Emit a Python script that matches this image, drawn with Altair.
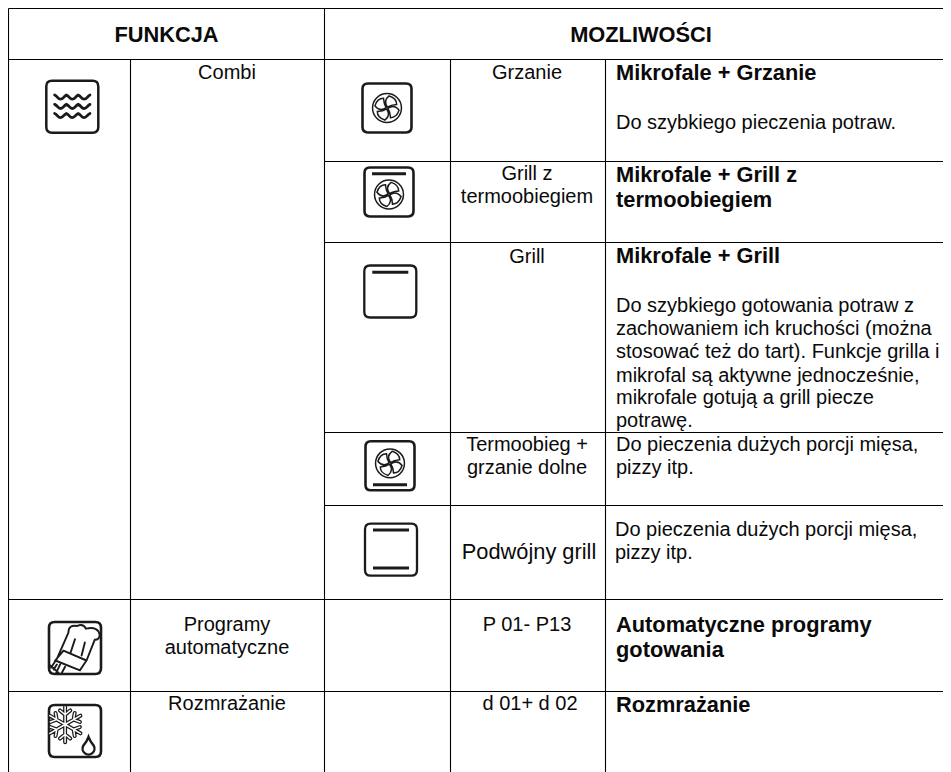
import math
import altair as alt
import pandas as pd

# ---------- table grid ----------
rule_x1 = [8.5, 8.5, 324.5, 324.5, 324.5, 324.5, 8.5, 8.5, 8.5, 130.5, 324.5, 450.5, 605.5]
rule_x2 = [943, 943, 943, 943, 943, 943, 943, 943, 8.5, 130.5, 324.5, 450.5, 605.5]
rule_y1 = [8.5, 59.5, 161.5, 242.5, 432.5, 505.5, 599.5, 691.5, 8.5, 59.5, 8.5, 59.5, 59.5]
rule_y2 = [8.5, 59.5, 161.5, 242.5, 432.5, 505.5, 599.5, 691.5, 772, 772, 772, 772, 772]

# ---------- text ----------
head_text = ["FUNKCJA", "MOZLIWOŚCI"]
head_x = [166.5, 641]
head_y = [41.7, 41.7]

center_text = ["Combi", "Grzanie", "Grill z", "termoobiegiem", "Grill", "Termoobieg +", "grzanie dolne",
               "Programy", "automatyczne", "Rozmrażanie", "P 01- P13", "d 01+ d 02"]
center_x = [227, 527, 527, 527, 527, 527, 527, 227, 227, 227, 527, 530]
center_y = [79, 79.3, 180, 203.3, 262.7, 451, 474, 630.7, 654, 710, 630.7, 710]

big_center_text = ["Podwójny grill"]
big_center_x = [529]
big_center_y = [558.5]

bold_text = ["Mikrofale + Grzanie", "Mikrofale + Grill z", "termoobiegiem", "Mikrofale + Grill",
             "Automatyczne programy", "gotowania", "Rozmrażanie"]
bold_x = [616] * 7
bold_y = [80, 181.7, 207.3, 263.3, 631.7, 657.3, 711.7]

body_text = ["Do szybkiego pieczenia potraw.", "Do szybkiego gotowania potraw z",
             "zachowaniem ich kruchości (można", "stosować też do tart). Funkcje grilla i",
             "mikrofal są aktywne jednocześnie,", "mikrofale gotują a grill piecze", "potrawę.",
             "Do pieczenia dużych porcji mięsa,", "pizzy itp.", "Do pieczenia dużych porcji mięsa,", "pizzy itp."]
body_x = [616] * 9 + [615, 615]
body_y = [129.3, 311.7, 335, 358.3, 381.7, 404, 426.7, 451, 474, 536, 559]

# ---------- icon outlines (unit square -1..1) ----------
def frame(r=0.22):
    k = 1 - r
    return (f"M{-k} -1L{k} -1Q1 -1 1 {-k}L1 {k}Q1 1 {k} 1L{-k} 1Q-1 1 -1 {k}L-1 {-k}Q-1 -1 {-k} -1Z")

def circle(cx, cy, r):
    return f"M{cx - r} {cy}A{r} {r} 0 1 0 {cx + r} {cy}A{r} {r} 0 1 0 {cx - r} {cy}Z"

def fan(cy=0.0):
    parts = [circle(0, cy, 0.59)]
    def pol(r, deg):
        a = math.radians(deg)
        return f"{round(r * math.cos(a), 3)} {round(r * math.sin(a) + cy, 3)}"
    for k in range(4):
        b = 10 + k * 90
        parts.append(
            f"M{pol(0.04, b + 20)}Q{pol(0.34, b - 40)} {pol(0.5, b)}Q{pol(0.56, b + 35)} {pol(0.42, b + 60)}"
            f"Q{pol(0.2, b + 40)} {pol(0.04, b + 20)}"
        )
    return "".join(parts)

def waves():
    out = ""
    for y in (-0.38, -0.02, 0.33):
        x0 = -0.68
        out += f"M{x0} {y - 0.07}"
        for i in range(3):
            x = round(x0 + i * 0.4533, 3)
            out += (f"C{round(x + 0.12, 3)} {round(y - 0.02, 3)} {round(x + 0.12, 3)} {round(y + 0.09, 3)} "
                    f"{round(x + 0.2267, 3)} {round(y + 0.09, 3)}"
                    f"C{round(x + 0.34, 3)} {round(y + 0.09, 3)} {round(x + 0.34, 3)} {round(y - 0.02, 3)} "
                    f"{round(x + 0.4533, 3)} {round(y - 0.07, 3)}")
    return out

def z(x, y):
    return f"{round((x - 225) / 79, 3)} {round((y - 775) / 79, 3)}"

def chef():
    return (f"M{z(170, 808)}L{z(205, 728)}Q{z(205, 703)} {z(232, 708)}Q{z(250, 700)} {z(258, 716)}"
            f"Q{z(295, 708)} {z(300, 735)}Q{z(300, 750)} {z(285, 750)}L{z(260, 813)}"
            f"M{z(190, 783)}L{z(260, 813)}L{z(240, 843)}L{z(165, 813)}L{z(190, 783)}"
            f"M{z(225, 748)}L{z(212, 788)}M{z(255, 758)}L{z(245, 798)}"
            f"M{z(150, 828)}L{z(175, 850)}M{z(165, 815)}L{z(152, 835)}"
            f"M{z(180, 825)}L{z(168, 850)}M{z(195, 832)}L{z(185, 850)}M{z(160, 840)}L{z(170, 825)}")

def snow():
    cx, cy, R = -0.38, -0.25, 0.68
    out = ""
    for deg in (90, 30, 150, 270, 210, 330):
        a = math.radians(deg)
        ex, ey = cx + R * math.cos(a), cy - R * math.sin(a)
        mx, my = cx + 0.55 * R * math.cos(a), cy - 0.55 * R * math.sin(a)
        out += f"M{round(cx, 3)} {round(cy, 3)}L{round(ex, 3)} {round(ey, 3)}"
        for d in (-50, 50):
            b = a + math.radians(d)
            out += (f"M{round(mx, 3)} {round(my, 3)}"
                    f"L{round(mx + 0.26 * math.cos(b), 3)} {round(my - 0.26 * math.sin(b), 3)}")
    return out

drop = "M0.52 0.23Q0.45 0.42 0.32 0.56A0.23 0.23 0 1 0 0.72 0.56Q0.59 0.42 0.52 0.23Z"

DARK = "#1c1a1b"
# one row per icon part: x, y, side, path, stroke width, colour
part_x = [72.3, 72.3, 387, 387, 389, 389, 390.3, 390, 390, 391, 75, 75, 75, 75, 75, 75]
part_y = [106.7, 106.7, 108, 108, 192, 192, 291.5, 465.8, 465.8, 549.7, 648, 648, 731, 731, 731, 731]
part_side = [52, 52, 49, 49, 49, 49, 52, 49, 49, 52, 52, 52, 52, 52, 52, 52]
part_path = [frame(), waves(), frame(), fan(0.0), frame(), fan(0.1), frame(), frame(), fan(-0.1), frame(),
             frame(), chef(), frame(), snow(), snow(), drop]
part_sw = [2.5, 2.8, 2.6, 1.5, 2.6, 1.5, 2.3, 2.6, 1.5, 2.3, 2.6, 1.9, 2.6, 4.0, 1.5, 2.4]
part_col = [DARK] * 14 + ["#ffffff", DARK]

bar_x = [389, 390.3, 390, 391, 391]
bar_y = [173.7, 272.3, 484.7, 530, 568]
bar_half = [17, 18, 17, 18, 18]

# ---------- scales ----------
xs = alt.Scale(domain=[8, 943], nice=False, zero=False)
ys = alt.Scale(domain=[772, 8], nice=False, zero=False)
X = lambda f: alt.X(f, type="quantitative", scale=xs, axis=None)
Y = lambda f: alt.Y(f, type="quantitative", scale=ys, axis=None)

grid = alt.Chart(pd.DataFrame({"x": rule_x1, "x2": rule_x2, "y": rule_y1, "y2": rule_y2})).mark_rule(
    color="#000000", strokeWidth=1.1
).encode(x=X("x"), x2="x2", y=Y("y"), y2="y2")

def text_layer(t, x, y, size, weight, align):
    df = pd.DataFrame({"t": t, "x": x, "y": y})
    return alt.Chart(df).mark_text(
        font="Liberation Sans", fontSize=size, fontWeight=weight, align=align, baseline="alphabetic", color="#0a0a0a"
    ).encode(x=X("x"), y=Y("y"), text="t:N")

icon_layers = []
for px, py, side, path, sw, col in zip(part_x, part_y, part_side, part_path, part_sw, part_col):
    icon_layers.append(
        alt.Chart(pd.DataFrame({"x": [px], "y": [py]})).mark_point(
            filled=False, shape=path, size=float(side) ** 2, color=col, strokeWidth=sw, opacity=1,
            strokeCap="round"
        ).encode(x=X("x"), y=Y("y"))
    )

bars_df = pd.DataFrame({"x1": [a - b for a, b in zip(bar_x, bar_half)],
                        "x2": [a + b for a, b in zip(bar_x, bar_half)], "y": bar_y})
bars = alt.Chart(bars_df).mark_rule(color=DARK, strokeWidth=3).encode(x=X("x1"), x2="x2", y=Y("y"))

chart = alt.layer(
    grid,
    *icon_layers,
    bars,
    text_layer(head_text, head_x, head_y, 21.8, "bold", "center"),
    text_layer(center_text, center_x, center_y, 20, "normal", "center"),
    text_layer(big_center_text, big_center_x, big_center_y, 21.8, "normal", "center"),
    text_layer(bold_text, bold_x, bold_y, 21.8, "bold", "left"),
    text_layer(body_text, body_x, body_y, 20, "normal", "left"),
).properties(
    width=935, height=764, padding=0, background="white",
    autosize=alt.AutoSizeParams(type="none"),
).configure_view(stroke=None)

chart.save("out.html", embed_options={"renderer": "svg", "actions": False})
